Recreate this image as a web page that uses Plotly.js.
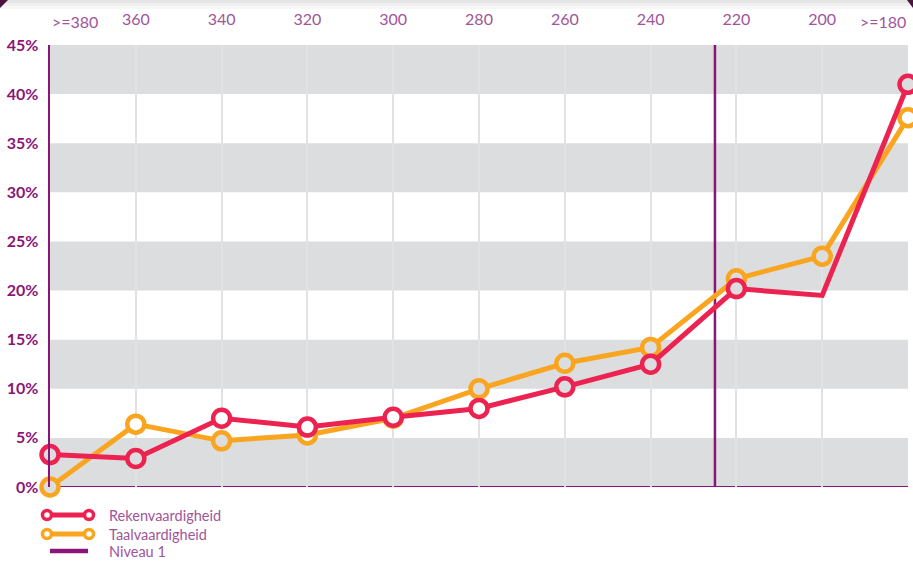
<!DOCTYPE html>
<html><head><meta charset="utf-8">
<script src="https://cdn.plot.ly/plotly-3.0.1.min.js"></script>
<style>html,body{margin:0;padding:0;background:#fff}#chart{width:913px;height:561px}</style>
</head><body><div id="chart"></div>
<script>
const categories = [">=380","360","340","320","300","280","260","240","220","200",">=180"];
const rekenValues = [3.3, 2.9, 7.0, 6.1, 7.1, 8.0, 10.2, 12.5, 20.2, 19.5, 41.0];
const taalValues  = [0.0, 6.4, 4.7, 5.3, 7.0, 10.0, 12.6, 14.2, 21.2, 23.5, 37.6];
const rekenMarkerShown = [true,true,true,true,true,true,true,true,true,false,true];
const yTicks = [0,5,10,15,20,25,30,35,40,45];
const niveau1Position = 7.75; // between 240 and 220 (≈225)
const seriesNames = ["Rekenvaardigheid","Taalvaardigheid","Niveau 1"];

const RED = "#EC2351", YEL = "#F9A51F", PUR = "#8A1579", LPUR = "#A0559A", GREY = "#DCDDDF";
const bandFill = v => (Math.floor(v/5) % 2 === 0) ? GREY : "#FFFFFF";
const FONT = "Lato, sans-serif";

const xIdx = categories.map((c,i)=>i);
const last = categories.length - 1;
const traces = [
  {x: xIdx, y: taalValues, mode: "lines+markers", name: seriesNames[1], cliponaxis:false,
   line:{color:YEL, width:5},
   marker:{size:17, opacity:1, color: taalValues.map(bandFill), line:{color:YEL, width:4.5}}},
  {x: xIdx, y: rekenValues, mode: "lines+markers", name: seriesNames[0], cliponaxis:false,
   line:{color:RED, width:5},
   marker:{size: rekenMarkerShown.map(s=>s?17:0), opacity:1, color: rekenValues.map(bandFill),
           line:{color:RED, width:4.5}}}
];

const shapes = [];
for (let b = 0; b < 45; b += 10) {
  shapes.push({type:"rect", xref:"paper", yref:"y", x0:0, x1:1, y0:b, y1:b+5,
               fillcolor:GREY, line:{width:0}, layer:"between"});
}
shapes.push({type:"line", xref:"x", yref:"y", x0:niveau1Position, x1:niveau1Position, y0:0, y1:45,
             line:{color:PUR, width:2.5}, layer:"between"});
shapes.push({type:"line", xref:"paper", yref:"y", x0:0, x1:1, y0:0, y1:0,
             line:{color:PUR, width:2}, layer:"between"});
// soft top shadow
[[0,3,0.10],[3,6,0.06],[6,9,0.03]].forEach(([a,b,o])=>shapes.push({type:"rect", xref:"paper", yref:"paper",
  xsizemode:"pixel", ysizemode:"pixel", xanchor:0, yanchor:1, x0:-50, x1:870, y0:45-a, y1:45-b,
  fillcolor:"#000", opacity:o, line:{width:0}}));
// corner marks
shapes.push({type:"path", xref:"paper", yref:"paper", xsizemode:"pixel", ysizemode:"pixel",
             xanchor:0, yanchor:1, path:"M-50,45 L-42,45 L-50,37 Z", fillcolor:"#4A1340", line:{width:0}});
shapes.push({type:"path", xref:"paper", yref:"paper", xsizemode:"pixel", ysizemode:"pixel",
             xanchor:1, yanchor:1, path:"M5,45 L-1,45 L5,37 Z", fillcolor:"#4A1340", line:{width:0}});

const annotations = [];
// edge category labels (aligned inside like the reference)
annotations.push({xref:"x", yref:"paper", x:0, y:1, yshift:24, xanchor:"left", yanchor:"middle", showarrow:false,
                  text:categories[0], font:{family:FONT, size:16, color:LPUR}});
annotations.push({xref:"x", yref:"paper", x:last, y:1, yshift:24, xanchor:"right", yanchor:"middle", showarrow:false,
                  text:categories[last], font:{family:FONT, size:16, color:LPUR}});

// custom legend
const legendRows = [{c:RED, dy:-28, mk:true}, {c:YEL, dy:-47, mk:true}, {c:PUR, dy:-64, mk:false}];
legendRows.forEach((r,i)=>{
  if (r.mk) {
    shapes.push({type:"line", xref:"paper", yref:"paper", xanchor:0, yanchor:0, xsizemode:"pixel", ysizemode:"pixel",
                 x0:-3, x1:39, y0:r.dy, y1:r.dy, line:{color:r.c, width:5}});
    [-3,39].forEach(cx=>shapes.push({type:"circle", xref:"paper", yref:"paper", xanchor:0, yanchor:0,
                 xsizemode:"pixel", ysizemode:"pixel", x0:cx-4.5, x1:cx+4.5, y0:r.dy-4.5, y1:r.dy+4.5,
                 fillcolor:"#fff", line:{color:r.c, width:3.5}}));
  } else {
    shapes.push({type:"line", xref:"paper", yref:"paper", xanchor:0, yanchor:0, xsizemode:"pixel", ysizemode:"pixel",
                 x0:0, x1:38, y0:r.dy, y1:r.dy, line:{color:r.c, width:4.5}});
  }
  annotations.push({xref:"paper", yref:"paper", x:0, y:0, xshift:57, yshift:r.dy, xanchor:"left", yanchor:"middle",
                    showarrow:false, text:seriesNames[i], font:{family:FONT, size:14.5, color:LPUR}});
});

const layout = {
  width:913, height:561, margin:{l:50, r:5, t:45, b:74},
  paper_bgcolor:"#fff", plot_bgcolor:"#fff", showlegend:false,
  xaxis:{side:"top", range:[0, last], tickvals:xIdx, ticktext:categories.map((c,i)=>(i===0||i===last)?"":c),
         showline:false, showgrid:true, gridcolor:"#E2E2E2", gridwidth:2, zeroline:false, ticks:"",
         tickfont:{family:FONT, size:16, color:LPUR}, ticklabelstandoff:16},
  yaxis:{range:[0,45], tickvals:yTicks, ticktext:yTicks.map(v=>v+"%"), showgrid:false, zeroline:false,
         showline:true, linecolor:PUR, linewidth:2.5, ticks:"", ticklabelstandoff:6,
         tickfont:{family:FONT, size:16, color:PUR, weight:"bold"}},
  shapes, annotations
};
Plotly.newPlot("chart", traces, layout, {displayModeBar:false, staticPlot:true});
</script></body></html>
